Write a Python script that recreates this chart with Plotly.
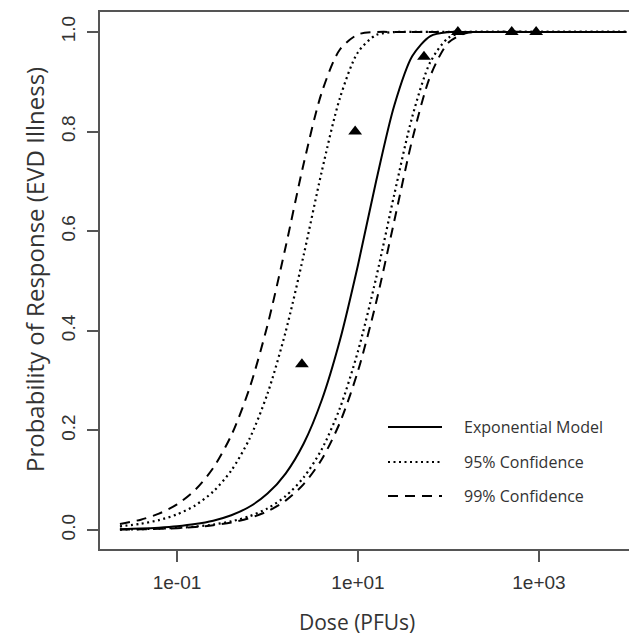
import plotly.graph_objects as go

# Dose grid (PFUs) at which curve values were read
dose = [0.0234, 0.0398, 0.0631, 0.1, 0.1585, 0.2512, 0.3981, 0.631, 1.0, 1.585,
        2.512, 3.981, 6.31, 10, 15.85, 25.12, 39.81, 63.1, 100, 158.5, 316, 1000, 9300]

# Exponential model (solid)
p_model = [0.0018, 0.0030, 0.0048, 0.0076, 0.0120, 0.0189, 0.0298, 0.0468, 0.0732, 0.1135,
           0.1738, 0.2611, 0.3810, 0.5323, 0.7002, 0.8518, 0.9515, 0.9917, 0.9995, 1.0, 1.0, 1.0, 1.0]
# 95% confidence bounds (dotted)
p95_upper = [0.0075, 0.0127, 0.0200, 0.0315, 0.0494, 0.0773, 0.1196, 0.1828, 0.2739, 0.3978,
             0.5524, 0.7203, 0.8672, 0.9592, 0.9937, 0.9997, 1.0, 1.0, 1.0, 1.0, 1.0, 1.0, 1.0]
p95_lower = [0.0010, 0.0018, 0.0028, 0.0044, 0.0070, 0.0111, 0.0176, 0.0277, 0.0435, 0.0681,
             0.1058, 0.1624, 0.2448, 0.3592, 0.5060, 0.6730, 0.8300, 0.9397, 0.9883, 0.9991, 1.0, 1.0, 1.0]
# 99% confidence bounds (dashed)
p99_upper = [0.0123, 0.0209, 0.0329, 0.0516, 0.0806, 0.1246, 0.1902, 0.2842, 0.4114, 0.5683,
             0.7358, 0.8788, 0.9647, 0.9950, 0.9998, 1.0, 1.0, 1.0, 1.0, 1.0, 1.0, 1.0, 1.0]
p99_lower = [0.0009, 0.0015, 0.0024, 0.0038, 0.0061, 0.0096, 0.0152, 0.0240, 0.0378, 0.0592,
             0.0922, 0.1421, 0.2157, 0.3195, 0.4568, 0.6198, 0.7841, 0.9119, 0.9787, 0.9978, 1.0, 1.0, 1.0]

# Observed data (triangles)
obs_dose = [2.4, 9.3, 53.6, 127, 500, 930]
obs_resp = [0.333, 0.80, 0.95, 1.0, 1.0, 1.0]

x_tickvals = [0.1, 10, 1000]
x_ticktext = ["1e-01", "1e+01", "1e+03"]
y_tickvals = [0.0, 0.2, 0.4, 0.6, 0.8, 1.0]
y_ticktext = ["0.0", "0.2", "0.4", "0.6", "0.8", "1.0"]

legend_labels = ["Exponential Model", "95% Confidence", "99% Confidence"]

SOLID = "solid"
DOT = "2px,3.5px"
DASH = "10px,7px"

fig = go.Figure()

def add_curve(y, dash, width=2):
    fig.add_trace(go.Scatter(x=dose, y=y, mode="lines",
                             line=dict(color="black", width=width, dash=dash, shape="spline", smoothing=0.8),
                             showlegend=False, hoverinfo="skip"))

add_curve(p99_upper, DASH)
add_curve(p95_upper, DOT, 2.2)
add_curve(p_model, SOLID)
add_curve(p95_lower, DOT, 2.2)
add_curve(p99_lower, DASH)

fig.add_trace(go.Scatter(x=obs_dose, y=obs_resp, mode="markers",
                         marker=dict(symbol="triangle-up", size=12, color="black"),
                         showlegend=False))

OFF = 8  # page margin of the html body
W, H = 637 - OFF, 637 - OFF
# plot area in page pixels: x 100..637, y 12..549
L, R, T = 100 - OFF, 0, 12 - OFF
B = H - (549 - OFF)
pw, ph = W - L - R, H - T - B

def px(xp):
    return (xp - OFF - L) / pw

def py(yp):
    return (H - B - (yp - OFF)) / ph

# manual legend
legend_rows = [427, 462, 496]
legend_dash = [SOLID, DOT, DASH]
for lab, yy, dsh in zip(legend_labels, legend_rows, legend_dash):
    fig.add_shape(type="line", xref="paper", yref="paper",
                  x0=px(388), x1=px(442), y0=py(yy), y1=py(yy),
                  line=dict(color="black", width=2, dash=dsh))
    fig.add_annotation(text=lab, xref="paper", yref="paper", x=px(462), y=py(yy),
                       xanchor="left", yanchor="middle", showarrow=False,
                       font=dict(family="Open Sans", size=16, color="#333"))

# axis titles
fig.add_annotation(text="Dose (PFUs)", xref="paper", yref="paper", x=px(356.5), y=py(622),
                   xanchor="center", yanchor="middle", showarrow=False,
                   font=dict(family="Open Sans", size=21, color="#333"))
fig.add_annotation(text="Probability of Response (EVD Illness)", xref="paper", yref="paper",
                   x=px(34), y=py(270), textangle=-90,
                   xanchor="center", yanchor="middle", showarrow=False,
                   font=dict(family="Open Sans", size=24, color="#333"))

fig.update_layout(
    width=W, height=H,
    margin=dict(l=L, r=R, t=T, b=B, autoexpand=False),
    paper_bgcolor="white", plot_bgcolor="white",
    showlegend=False,
    xaxis=dict(type="log", range=[-1.851, 4.083], tickvals=x_tickvals, ticktext=x_ticktext,
               showgrid=False, zeroline=False, showline=True, linecolor="#555", linewidth=2,
               mirror=True, ticks="outside", ticklen=11, tickwidth=2, tickcolor="#555",
               ticklabelstandoff=4,
               tickfont=dict(family="Liberation Sans", size=19, color="#333")),
    yaxis=dict(range=[-0.038, 1.040], tickvals=y_tickvals, ticktext=y_ticktext,
               showgrid=False, zeroline=False, showline=True, linecolor="#555", linewidth=2,
               mirror=False, ticks="outside", ticklen=11, tickwidth=2, tickcolor="#555",
               tickangle=-90, ticklabelstandoff=4,
               tickfont=dict(family="Liberation Sans", size=19, color="#333")),
)

fig.write_html("out.html")
